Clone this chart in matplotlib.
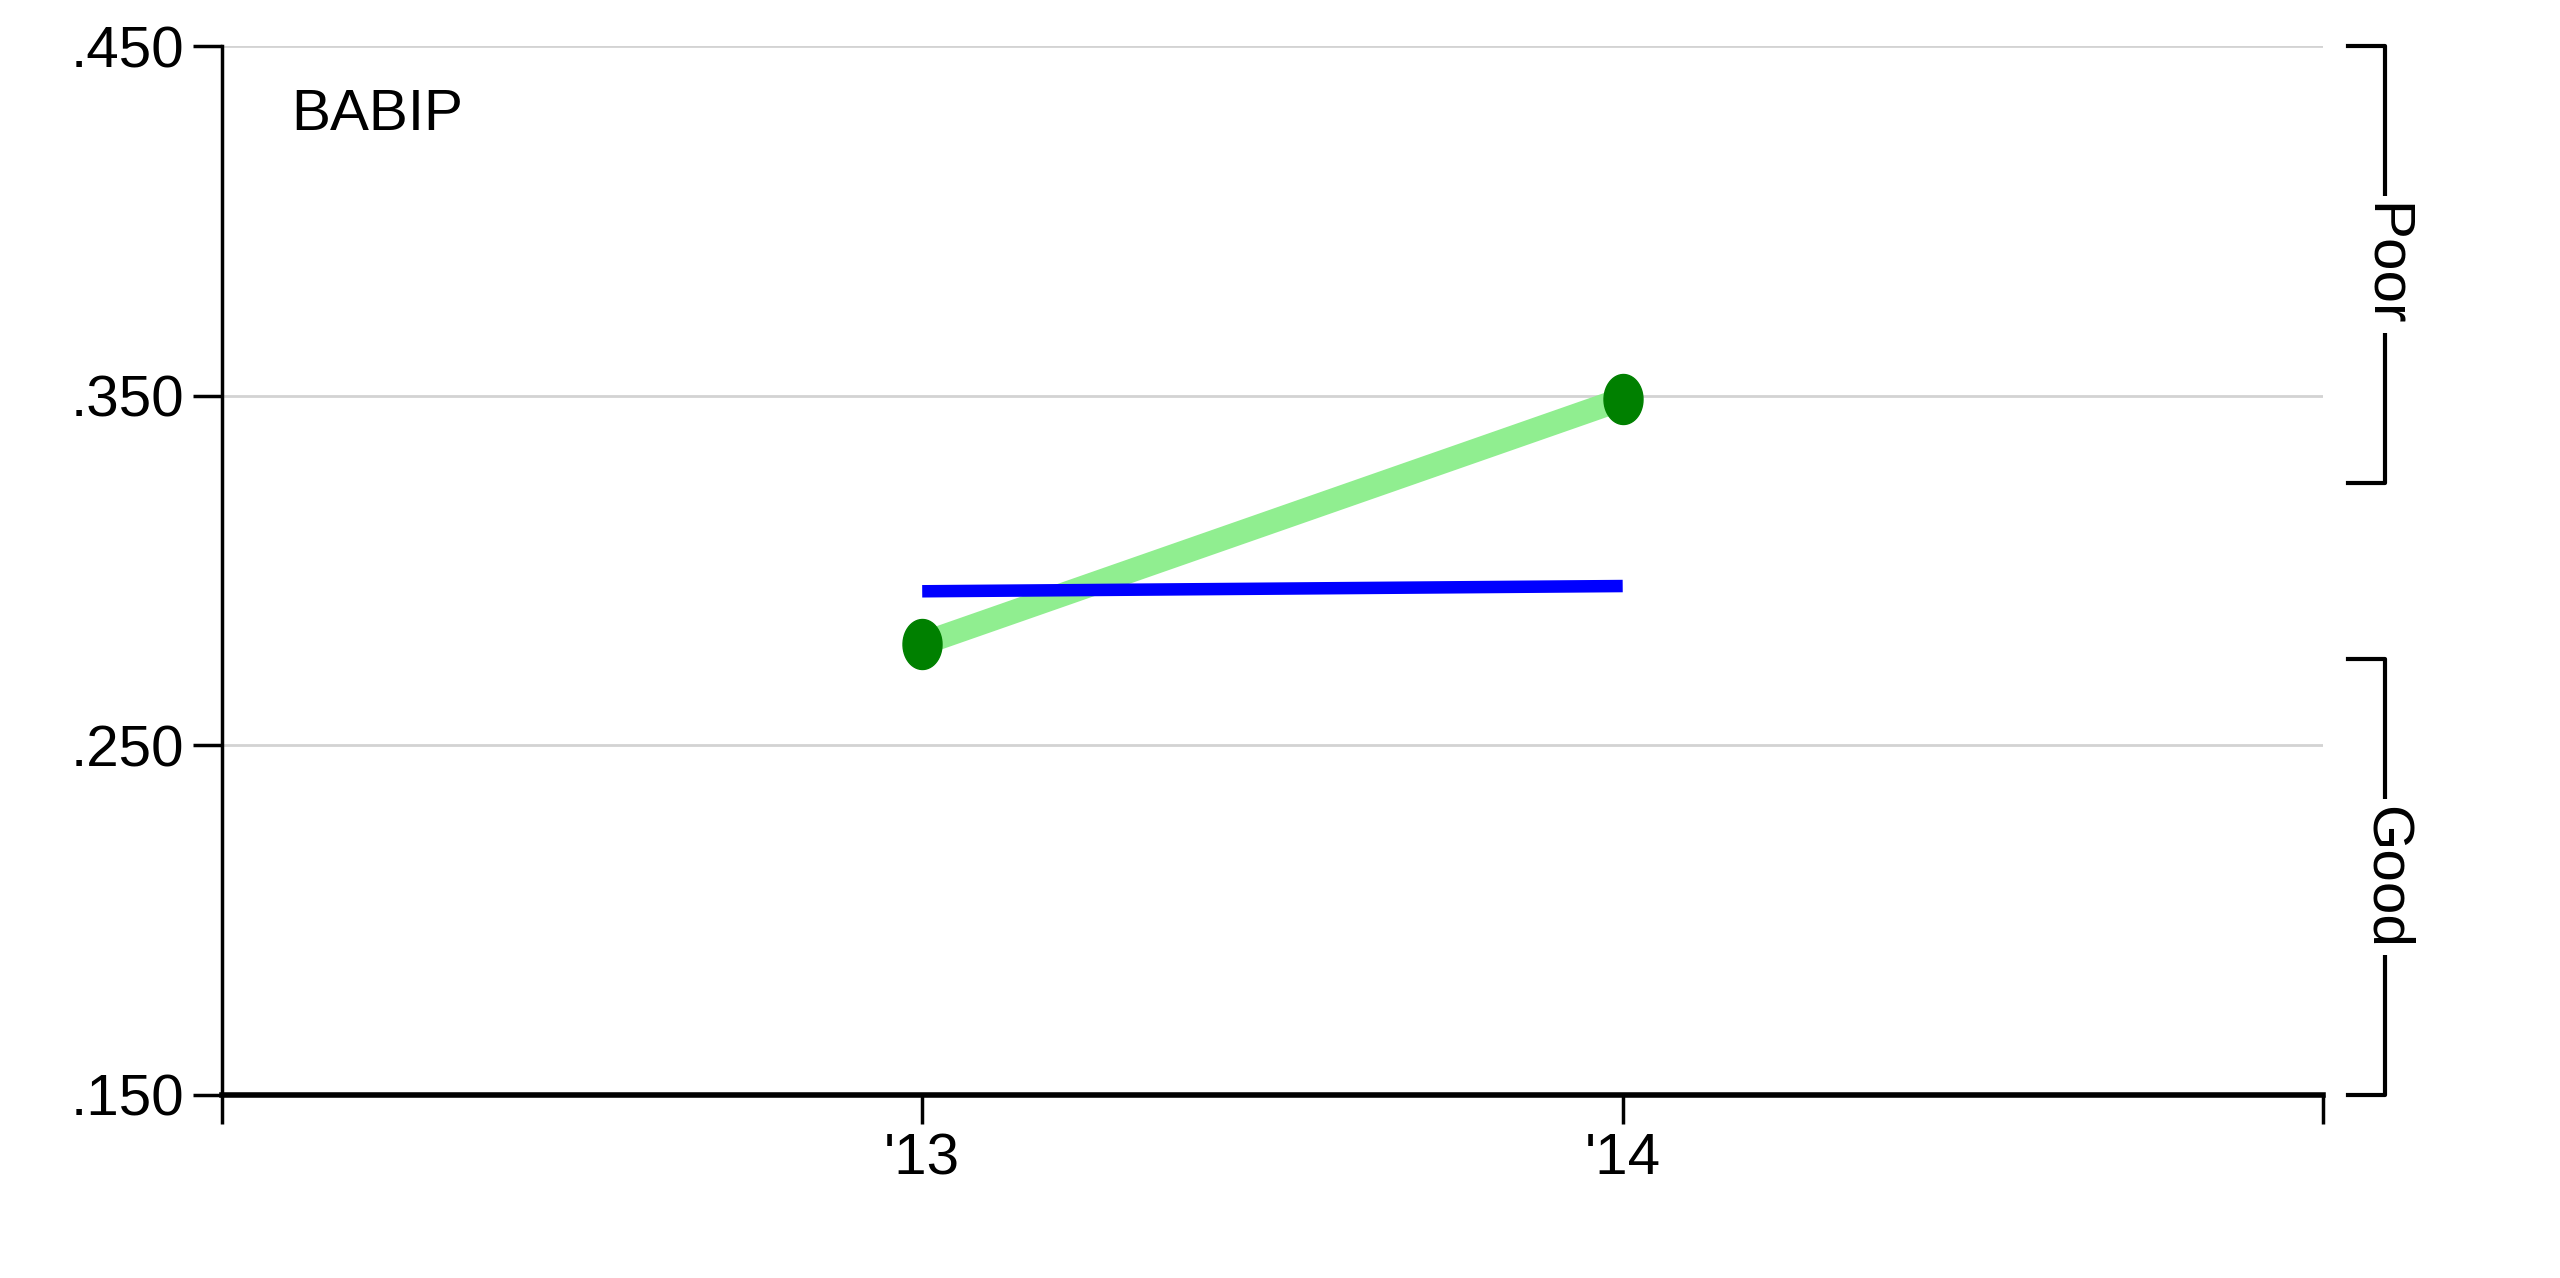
import numpy as np
import matplotlib
matplotlib.use('agg')
from matplotlib import pyplot as plt
from matplotlib.transforms import blended_transform_factory

plt.rcParams['font.family'] = ['Liberation Sans', 'DejaVu Sans']

years = ["'13", "'14"]
babip = [0.279, 0.349]
league = [0.294, 0.2955]
yticks = [0.150, 0.250, 0.350, 0.450]
ylabels = ['.150', '.250', '.350', '.450']
bands = [('Poor', 0.325, 0.450), ('Good', 0.150, 0.2745)]

x = np.arange(len(years))

fig = plt.figure(figsize=(25.6, 12.78), dpi=100)
ax = fig.add_axes([0.0866, 0.1435, 0.8209, 0.964 - 0.1435])

# tall ellipse marker (the original picture is a bit stretched vertically)
t = np.linspace(0, 2 * np.pi, 60)
ell = np.column_stack([0.78 * np.cos(t), np.sin(t)])

ax.plot(x, league, color='#0000ff', lw=9, solid_capstyle='butt', zorder=3)
ax.plot(x, babip, color='#90ee90', lw=17, solid_capstyle='butt', zorder=2)
ax.plot(x, babip, ls='none', marker=ell, ms=36, color='#008000', zorder=4)

ax.set_xlim(-1, 2)
ax.set_ylim(0.150, 0.450)
ax.set_xticks([-1, 0, 1, 2])
ax.set_xticklabels([''] + years + [''])
ax.set_yticks(yticks)
ax.set_yticklabels(ylabels)
ax.tick_params(axis='both', labelsize=42, width=2.5, length=21, pad=6, colors='black')
ax.yaxis.grid(True, color='#d3d3d3', lw=2)
ax.set_axisbelow(True)

for s in ['top', 'right']:
    ax.spines[s].set_visible(False)
ax.spines['left'].set_linewidth(2.5)
ax.spines['bottom'].set_linewidth(4)

ax.text(0.033, 0.96, 'BABIP', transform=ax.transAxes, fontsize=42, va='top', ha='left')

# Poor / Good brackets on the right
tr = blended_transform_factory(ax.transAxes, ax.transData)
x0, x1 = 1.0116, 1.0295
for name, lo, hi in bands:
    ax.plot([x0, x1, x1, x0], [hi, hi, lo, lo], color='black', lw=3, transform=tr, clip_on=False)
    ax.text(x1, (lo + hi) / 2, name, transform=tr, rotation=270, fontsize=42,
            ha='center', va='center', bbox=dict(facecolor='white', edgecolor='none', pad=5))

plt.savefig('out.png', dpi=100)
plt.close()
